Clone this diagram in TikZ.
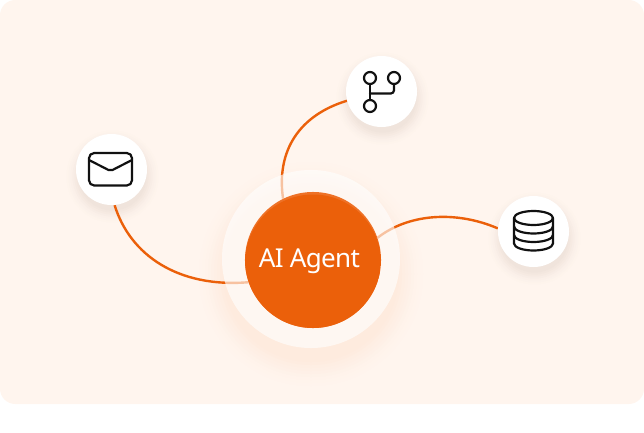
\documentclass[tikz,border=0pt]{standalone}
\usepackage{fontspec}
\setmainfont{Noto Sans}
\usepackage{xcolor}
\usetikzlibrary{calc}
\definecolor{panelbg}{HTML}{FFF5EE}
\definecolor{agentorange}{HTML}{EB600A}
\definecolor{agentrim}{HTML}{EE7126}
\definecolor{iconink}{HTML}{111111}
\definecolor{shadowtone}{HTML}{7A5A48}
\pgfdeclarelayer{panel}
\pgfdeclarelayer{glow}
\pgfdeclarelayer{wires}
\pgfsetlayers{panel,glow,wires,main}
\tikzset{agent/.style={circle, fill=agentrim, inner sep=0pt, minimum size=3.4cm}}
\tikzset{halo/.style={circle, fill=white, fill opacity=.62, inner sep=0pt, minimum size=4.45cm}}
\tikzset{iconbg/.style={circle, fill=white, inner sep=0pt, minimum size=1.775cm}}
\tikzset{wire/.style={draw=agentorange, line width=.06cm}}
\tikzset{iconline/.style={draw=iconink, line width=.055cm, line cap=round, line join=round}}

\begin{document}
\begin{tikzpicture}[x=.025cm, y=-.025cm]
    \useasboundingbox (0, 0) rectangle (644, 433);
    \begin{pgfonlayer}{panel}
    \fill [panelbg, rounded corners=.38cm] (0, 0) rectangle (644, 404);
    \end{pgfonlayer}

    \node [halo] (ring) at (311, 259) {};
    \node [agent] (core) at (313, 260) {};
    \begin{scope}
        \clip (313, 260) circle [radius=68];
        \fill [agentorange] (313, 262.5) circle [radius=68];
    \end{scope}
    \node [text=white, font=\fontsize{18.5}{18.5}\selectfont\addfontfeature{LetterSpace=-2.5}] (agenttext) at (309.5, 261) {AI Agent};
    \node [iconbg] (mail) at (111.5, 169.5) {};
    \node [iconbg] (branch) at (381.5, 91.5) {};
    \node [iconbg] (store) at (533.5, 231.5) {};

    % soft shadows
    \begin{pgfonlayer}{glow}
    \foreach \r/\p in {112/.5, 109/1, 106/1.5, 103/2, 100/3, 97/4, 94/5, 91/6, 88/7} {
        \fill [agentorange!\p!panelbg] (311, 274) circle [radius=\r];
    }
    \foreach \n in {mail, branch, store} {
        \foreach \r/\p in {46/1, 44/2, 42/3, 40/5, 38/7, 36/9, 34/11} {
            \fill [shadowtone!\p!panelbg] ($(\n) + (1, 7)$) circle [radius=\r];
        }
    }
    \end{pgfonlayer}

    % links
    \begin{pgfonlayer}{wires}
    \draw [wire] (mail.-85) .. controls (130, 255) and (178, 288) .. (core.199);
    \draw [wire] (branch.195) .. controls (300, 115) and (276, 150) .. (core.116);
    \draw [wire] (store.175) .. controls (455, 210) and (408, 214) .. (core.19);
    \end{pgfonlayer}

    % envelope
    \begin{scope}[shift={(mail)}]
        \draw [iconline, rounded corners=.13cm] (-22.5, -16.5) rectangle (20.5, 16);
        \draw [iconline] (-22.5, -9.5) -- (-3, 0.5) .. controls (-1.5, 1.2) and (-.5, 1.2) .. (1, 0.5) -- (20.5, -9.5);
    \end{scope}

    % branches
    \begin{scope}[shift={(branch)}]
        \node [circle, iconline, inner sep=0pt, minimum size=.3cm] (headA) at (-11.5, -13.5) {};
        \node [circle, iconline, inner sep=0pt, minimum size=.3cm] (headB) at (12.5, -13.5) {};
        \node [circle, iconline, inner sep=0pt, minimum size=.3cm] (headC) at (-11.5, 14.5) {};
        \draw [iconline] (headA) -- (headC);
        \draw [iconline, rounded corners=.08cm] (headB) |- (-11.5, 2);
    \end{scope}

    % cylinder
    \begin{scope}[shift={(store)}]
        \draw [iconline] (0, -13.5) ellipse [x radius=19.5, y radius=7];
        \draw [iconline] (-19.5, -13.5) -- (-19.5, 12) arc [start angle=180, end angle=0, x radius=19.5, y radius=7] -- (19.5, -13.5);
        \draw [iconline] (-19.5, -5) arc [start angle=180, end angle=0, x radius=19.5, y radius=7];
        \draw [iconline] (-19.5, 3.5) arc [start angle=180, end angle=0, x radius=19.5, y radius=7];
    \end{scope}
\end{tikzpicture}
\end{document}
